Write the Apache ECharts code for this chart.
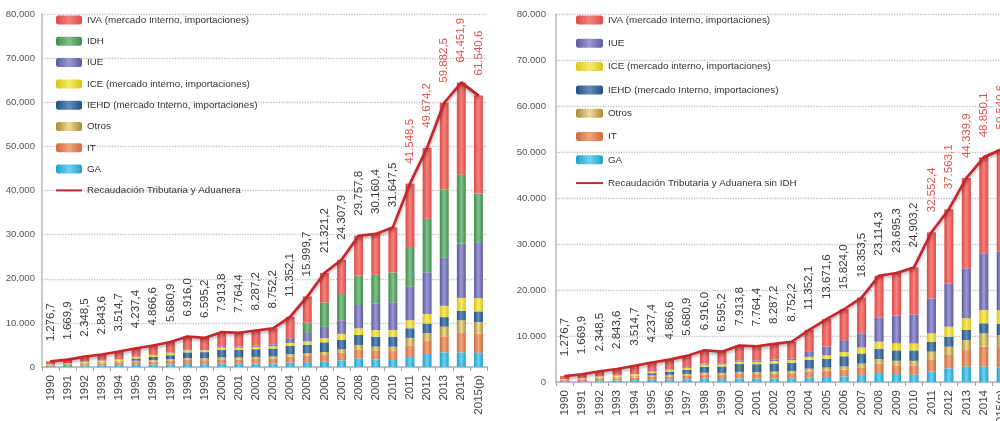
<!DOCTYPE html>
<html>
<head>
<meta charset="utf-8">
<script src="https://cdn.jsdelivr.net/npm/echarts@6/dist/echarts.min.js"></script>
<style>
html,body{margin:0;padding:0;background:#fff;}
#c{width:1000px;height:421px;}
</style>
</head>
<body>
<div id="c"></div>
<script>
// ---- data ----
var years = ['1990','1991','1992','1993','1994','1995','1996','1997','1998','1999','2000','2001','2002','2003','2004','2005','2006','2007','2008','2009','2010','2011','2012','2013','2014','2015(p)'];
var total = [1276.7,1669.9,2348.5,2843.6,3514.7,4237.4,4866.6,5680.9,6916.0,6595.2,7913.8,7764.4,8287.2,8752.2,11352.1,15999.7,21321.2,24307.9,29757.8,30160.4,31647.5,41548.5,49674.2,59882.5,64451.9,61540.6];
var totalSinIDH = [1276.7,1669.9,2348.5,2843.6,3514.7,4237.4,4866.6,5680.9,6916.0,6595.2,7913.8,7764.4,8287.2,8752.2,11352.1,13671.6,15824.0,18353.5,23114.3,23695.3,24903.2,32552.4,37563.1,44339.9,48850.1,50540.6];
var GA    = [170,220,300,350,420,480,520,600,700,650,750,720,750,800,1000,1100,1200,1500,1965,1740,1600,2250,2970,3335,3335,3200];
var IT    = [190,250,350,430,520,620,700,800,900,900,1000,1000,1050,1100,1300,1400,1500,1700,2000,1900,2000,2540,2900,3625,4350,4400];
var Otros = [190,250,350,420,500,320,350,380,420,420,450,450,480,500,600,650,700,800,1020,970,1000,1810,1810,2175,2900,2600];
var IEHD  = [0,0,0,0,0,500,700,900,1300,1400,1700,1700,1750,1800,1900,1900,2200,2200,2270,2270,2270,2175,2175,2175,2175,2400];
var ICE   = [100,130,190,230,280,320,350,400,450,450,500,500,520,550,650,750,900,1300,1510,1510,1510,1810,2175,2540,2900,3000];
var IUE   = [0,0,0,0,0,100,150,200,250,250,300,330,350,400,1100,1900,2600,3100,5290,6050,6300,7610,9425,10875,12325,12700];
var IDH   = [0,0,0,0,0,0,0,0,0,0,0,0,0,0,0,2328.1,5497.2,5954.4,6643.5,6465.1,6744.3,8996.1,12111.1,15542.6,15601.8,11000];
var IVA   = [626.7,819.9,1158.5,1413.6,1794.7,1897.4,2096.6,2400.9,2896.0,2525.2,3213.8,3064.4,3387.2,3602.2,4802.1,5971.6,6724.0,7753.5,9059.3,9255.3,10223.2,14357.4,16108.1,19614.9,20865.1,22240.6];

var N_IVA = 'IVA (mercado Interno, importaciones)';
var N_IDH = 'IDH';
var N_IUE = 'IUE';
var N_ICE = 'ICE (mercado interno, importaciones)';
var N_IEHD = 'IEHD (mercado Interno, importaciones)';
var N_OT = 'Otros';
var N_IT = 'IT';
var N_GA = 'GA';
var N_TOT = 'Recaudación Tributaria y Aduanera';
var N_TOT2 = 'Recaudación Tributaria y Aduanera sin IDH';

function fmt(v){
  var s = v.toFixed(1).split('.');
  return s[0].replace(/\B(?=(\d{3})+(?!\d))/g, '.') + ',' + s[1];
}
function grad(dark, light){
  return new echarts.graphic.LinearGradient(0,0,1,0,[
    {offset:0,color:dark},{offset:0.5,color:light},{offset:1,color:dark}]);
}
var colors = {};
colors[N_IVA] = grad('#de4a48','#f4837c');
colors[N_IDH] = grad('#3f8d4c','#82c28a');
colors[N_IUE] = grad('#5d5a9e','#9d99d2');
colors[N_ICE] = grad('#d9c414','#f7ec6a');
colors[N_IEHD] = grad('#24507e','#5f8dbd');
colors[N_OT] = grad('#a88a2e','#efdc9a');
colors[N_IT] = grad('#cc6a3e','#f0a77f');
colors[N_GA] = grad('#1f9fca','#6fd2ee');

var FONT = "'Liberation Sans',Arial,sans-serif";
var RED = '#c9252c';

function barSeries(name, data, idx, stack){
  return {type:'bar', name:name, data:data, stack:stack, xAxisIndex:idx, yAxisIndex:idx,
    barWidth:'52%', itemStyle:{color:colors[name]}, z:2};
}
function lineSeries(name, data, idx){
  return {type:'line', name:name, xAxisIndex:idx, yAxisIndex:idx,
    data: data.map(function(v, i){
      return {value:v, label:{color: i >= 21 ? '#e0524f' : '#3a3a3a'}};
    }),
    symbol:'circle', symbolSize:2, showSymbol:true, z:5,
    lineStyle:{color:RED, width:2.6, shadowColor:'rgba(0,0,0,0.35)', shadowBlur:3, shadowOffsetY:2},
    itemStyle:{color:RED},
    label:{show:true, position:'top', rotate:90, align:'left', verticalAlign:'middle', distance:19,
      fontFamily:FONT, fontSize:11.5,
      formatter:function(p){return fmt(p.value);}},
    labelLayout:{hideOverlap:false},
    markLine:{silent:true, symbol:['none','arrow'], symbolSize:[0,11], label:{show:false},
      lineStyle:{color:RED, width:2.6, type:'solid'},
      data:[[{coord:[years[24], data[24]]},{coord:[years[25], data[25]]}]]}
  };
}

function xAxis(idx){
  return {type:'category', gridIndex:idx, data:years,
    axisLine:{lineStyle:{color:'#aab6c4', width:1.5}},
    axisTick:{show:true, length:4, lineStyle:{color:'#9aa6b4'}},
    axisLabel:{rotate:90, fontFamily:FONT, fontSize:11.5, color:'#444', margin:8}};
}
function yAxis(idx, margin){
  return {type:'value', gridIndex:idx, min:0, max:80000, interval:10000,
    axisLine:{show:true, lineStyle:{color:'#b8b8b8', width:1.5}},
    axisTick:{show:false},
    splitLine:{lineStyle:{type:'dotted', color:'#c4c4c4', width:1.3}},
    axisLabel:{fontFamily:FONT, fontSize:9.6, color:'#555', margin:margin,
      formatter:function(v){return v===0?'0':fmt(v).replace(/,0$/,'');}}};
}

var seriesL = [
  barSeries(N_GA, GA, 0, 'L'), barSeries(N_IT, IT, 0, 'L'), barSeries(N_OT, Otros, 0, 'L'),
  barSeries(N_IEHD, IEHD, 0, 'L'), barSeries(N_ICE, ICE, 0, 'L'), barSeries(N_IUE, IUE, 0, 'L'),
  barSeries(N_IDH, IDH, 0, 'L'), barSeries(N_IVA, IVA, 0, 'L'), lineSeries(N_TOT, total, 0)
];
var seriesR = [
  barSeries(N_GA, GA, 1, 'R'), barSeries(N_IT, IT, 1, 'R'), barSeries(N_OT, Otros, 1, 'R'),
  barSeries(N_IEHD, IEHD, 1, 'R'), barSeries(N_ICE, ICE, 1, 'R'), barSeries(N_IUE, IUE, 1, 'R'),
  barSeries(N_IVA, IVA, 1, 'R'), lineSeries(N_TOT2, totalSinIDH, 1)
];

var legendText = {fontFamily:FONT, fontSize:9.8, color:'#333'};
var chart = echarts.init(document.getElementById('c'), null, {renderer:'canvas'});
chart.setOption({
  animation:false,
  grid:[
    {left:42, top:14, width:445, height:353, outerBoundsMode:'none', containLabel:false},
    {left:556, top:14, width:454, height:368, outerBoundsMode:'none', containLabel:false}
  ],
  xAxis:[xAxis(0), xAxis(1)],
  yAxis:[yAxis(0, 7), yAxis(1, 10)],
  legend:[
    {orient:'vertical', left:50, top:10, itemWidth:26, itemHeight:9, itemGap:11.3,
     textStyle:legendText,
     data:[N_IVA,N_IDH,N_IUE,N_ICE,N_IEHD,N_OT,N_IT,N_GA,{name:N_TOT, itemStyle:{opacity:0}}]},
    {orient:'vertical', left:570, top:10, itemWidth:27, itemHeight:9, itemGap:13.3,
     textStyle:legendText,
     data:[N_IVA,N_IUE,N_ICE,N_IEHD,N_OT,N_IT,N_GA,{name:N_TOT2, itemStyle:{opacity:0}}]}
  ],
  series: seriesL.concat(seriesR)
});
</script>
</body>
</html>
